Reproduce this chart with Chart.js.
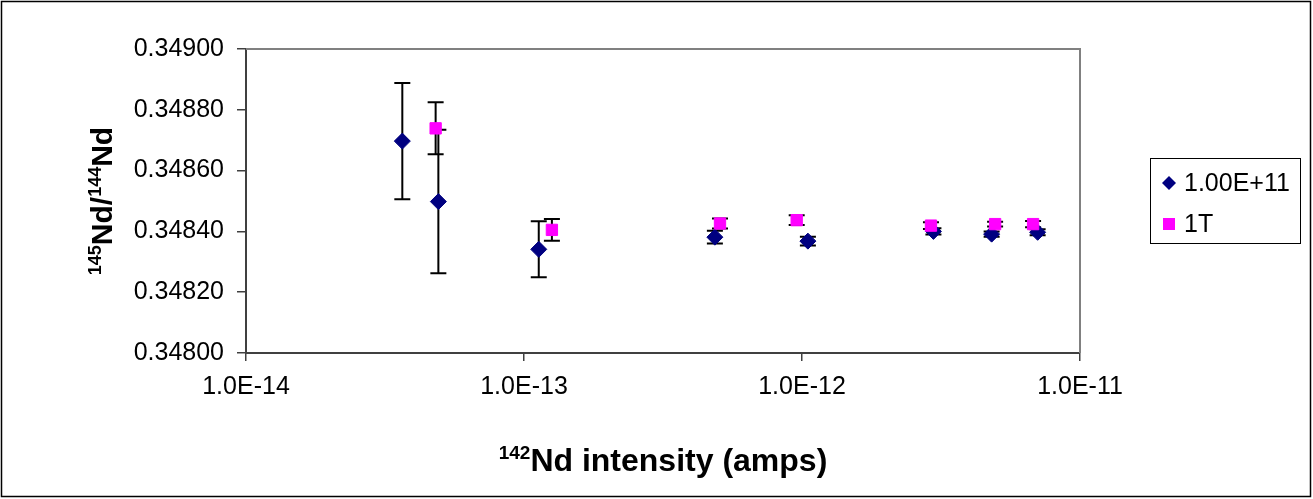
<!DOCTYPE html>
<html>
<head>
<meta charset="utf-8">
<script src="https://cdn.jsdelivr.net/npm/chart.js@4.4.0/dist/chart.umd.min.js"></script>
<style>
    body { margin: 0; background: #fff; }
    #caixa { width: 1313px; height: 499px; }
</style>
</head>
<body>
<div id="caixa"><canvas id="myChartScatter" width="1313" height="499"></canvas></div>
<script>
// 145Nd/144Nd x intensidade do 142Nd, duas series
var rotulos = ['1.00E+11', '1T'];

var intensidade11 = [3.65e-14, 4.92e-14, 1.13e-13, 4.86e-13, 1.05e-12, 2.97e-12, 4.81e-12, 7.04e-12];
var razao11 = [0.348697, 0.348498, 0.348341, 0.348381, 0.348368, 0.348400, 0.348391, 0.348397];
var erro11 = [0.000191, 0.000236, 0.000092, 0.000021, 0.000014, 0.000010, 0.000009, 0.000010];

var intensidade1T = [4.81e-14, 1.26e-13, 5.07e-13, 9.57e-13, 2.91e-12, 4.95e-12, 6.78e-12];
var razao1T = [0.348739, 0.348405, 0.348426, 0.348437, 0.348419, 0.348424, 0.348424];
var erro1T = [0.0000855, 0.000036, 0.0000165, 0.000016, 0.0000115, 0.000008, 0.000010];

var ticksX = [1e-14, 1e-13, 1e-12, 1e-11];
var ticksY = [0.34800, 0.34820, 0.34840, 0.34860, 0.34880, 0.34900];

var fonte = "'Liberation Sans', Arial, Helvetica, sans-serif";

var Isotopos = Isotopos || {};

Isotopos.Grafico = (function(){

    function Grafico(){
        this.ctx = document.getElementById('myChartScatter').getContext('2d');
    }

    Grafico.prototype.iniciar = function(){
        var pontos11 = intensidade11.map(function(v, i){ return {x: v, y: razao11[i]}; });
        var pontos1T = intensidade1T.map(function(v, i){ return {x: v, y: razao1T[i]}; });

        new Chart(this.ctx, {
            type: 'scatter',
            data: {
                datasets: [{
                    label: rotulos[0],
                    data: pontos11,
                    erros: erro11,
                    pointStyle: 'rectRot',
                    pointRadius: 8,
                    backgroundColor: '#000080',
                    borderColor: '#000080',
                    borderWidth: 1,
                    order: 1
                }, {
                    label: rotulos[1],
                    data: pontos1T,
                    erros: erro1T,
                    pointStyle: 'rect',
                    pointRadius: 8,
                    backgroundColor: '#ff00ff',
                    borderColor: '#ff00ff',
                    borderWidth: 1,
                    order: 0
                }]
            },
            options: {
                responsive: false,
                animation: false,
                layout: { padding: { left: 0, top: 49, right: 233, bottom: 0 } },
                plugins: {
                    legend: { display: false },
                    tooltip: { enabled: false }
                },
                scales: {
                    x: {
                        type: 'logarithmic',
                        min: 1e-14,
                        max: 1e-11,
                        afterBuildTicks: function(scale){
                            scale.ticks = ticksX.map(function(v){ return {value: v}; });
                        },
                        afterFit: function(scale){ scale.height = 146; },
                        ticks: {
                            autoSkip: false,
                            maxRotation: 0,
                            padding: 11,
                            color: '#000',
                            font: { family: fonte, size: 25 },
                            callback: function(v){ return Number(v).toExponential(1).toUpperCase(); }
                        },
                        grid: { drawOnChartArea: false, tickLength: 8, color: '#404040', lineWidth: 1.5 },
                        border: { color: '#404040', width: 2 }
                    },
                    y: {
                        type: 'linear',
                        min: 0.348,
                        max: 0.349,
                        afterBuildTicks: function(scale){
                            scale.ticks = ticksY.map(function(v){ return {value: v}; });
                        },
                        afterFit: function(scale){ scale.width = 246; },
                        ticks: {
                            padding: 13,
                            color: '#000',
                            font: { family: fonte, size: 25 },
                            callback: function(v){ return Number(v).toFixed(5); }
                        },
                        grid: { drawOnChartArea: false, tickLength: 9, color: '#404040', lineWidth: 1.5 },
                        border: { color: '#404040', width: 2 }
                    }
                }
            },
            plugins: [barrasDeErro, moldura]
        });
    };

    // barras de erro verticais, desenhadas antes dos marcadores
    var barrasDeErro = {
        id: 'barrasDeErro',
        beforeDatasetsDraw: function(chart){
            var ctx = chart.ctx;
            var sx = chart.scales.x, sy = chart.scales.y;
            ctx.save();
            ctx.strokeStyle = '#000';
            ctx.lineWidth = 2;
            chart.data.datasets.forEach(function(ds){
                ds.data.forEach(function(p, j){
                    var e = ds.erros[j];
                    var px = sx.getPixelForValue(p.x);
                    var y1 = sy.getPixelForValue(p.y + e);
                    var y2 = sy.getPixelForValue(p.y - e);
                    ctx.beginPath();
                    ctx.moveTo(px, y1); ctx.lineTo(px, y2);
                    ctx.moveTo(px - 8, y1); ctx.lineTo(px + 8, y1);
                    ctx.moveTo(px - 8, y2); ctx.lineTo(px + 8, y2);
                    ctx.stroke();
                });
            });
            ctx.restore();
        }
    };

    function escreveComSobrescrito(ctx, partes, tamanho, centro){
        var menor = Math.round(tamanho * 0.6);
        var total = 0;
        partes.forEach(function(p){
            ctx.font = 'bold ' + (p.sup ? menor : tamanho) + 'px ' + fonte;
            p.w = ctx.measureText(p.t).width;
            total += p.w;
        });
        var x = centro - total / 2;
        partes.forEach(function(p){
            ctx.font = 'bold ' + (p.sup ? menor : tamanho) + 'px ' + fonte;
            ctx.fillText(p.t, x, p.sup ? -tamanho * 0.38 : 0);
            x += p.w;
        });
    }

    // moldura, bordas do grafico, titulos dos eixos e legenda
    var moldura = {
        id: 'moldura',
        afterDraw: function(chart){
            var ctx = chart.ctx;
            var a = chart.chartArea;
            ctx.save();

            ctx.strokeStyle = '#000';
            ctx.lineWidth = 1.5;
            ctx.strokeRect(1.5, 1.5, chart.width - 4, chart.height - 4);

            ctx.strokeStyle = '#808080';
            ctx.lineWidth = 2;
            ctx.beginPath();
            ctx.moveTo(a.left, a.top); ctx.lineTo(a.right, a.top); ctx.lineTo(a.right, a.bottom);
            ctx.stroke();

            ctx.fillStyle = '#000';
            ctx.textAlign = 'left';
            ctx.textBaseline = 'alphabetic';

            ctx.save();
            ctx.translate(0, 471);
            escreveComSobrescrito(ctx, [{t: '142', sup: true}, {t: 'Nd intensity (amps)'}], 32, (a.left + a.right) / 2);
            ctx.restore();

            ctx.save();
            ctx.translate(112, (a.top + a.bottom) / 2);
            ctx.rotate(-Math.PI / 2);
            escreveComSobrescrito(ctx, [{t: '145', sup: true}, {t: 'Nd/'}, {t: '144', sup: true}, {t: 'Nd'}], 30, 0);
            ctx.restore();

            // legenda
            ctx.strokeStyle = '#000';
            ctx.lineWidth = 1;
            ctx.strokeRect(1150.5, 158.5, 150, 85);
            ctx.font = '25px ' + fonte;
            ctx.textBaseline = 'middle';
            chart.data.datasets.forEach(function(ds, i){
                var cy = 183 + i * 41, cx = 1169;
                ctx.fillStyle = ds.backgroundColor;
                ctx.beginPath();
                if (ds.pointStyle === 'rectRot') {
                    ctx.moveTo(cx, cy - 7); ctx.lineTo(cx + 7, cy); ctx.lineTo(cx, cy + 7); ctx.lineTo(cx - 7, cy);
                } else {
                    ctx.rect(cx - 6, cy - 6, 12, 12);
                }
                ctx.fill();
                ctx.fillStyle = '#000';
                ctx.fillText(ds.label, 1184, cy + 1);
            });

            ctx.restore();
        }
    };

    return Grafico;

}());

(function(){
    var grafico = new Isotopos.Grafico();
    grafico.iniciar();
})();
</script>
</body>
</html>
